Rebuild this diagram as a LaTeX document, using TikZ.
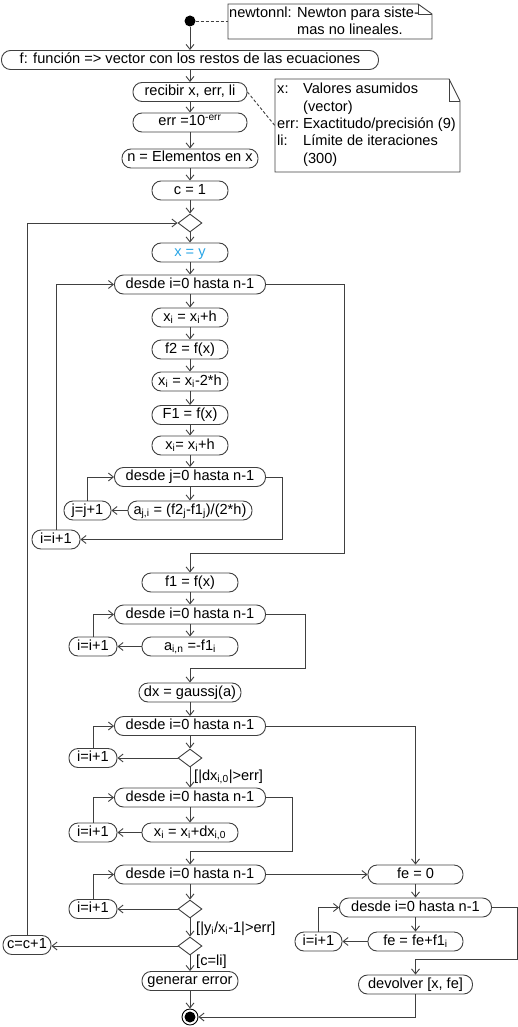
\documentclass[tikz,border=0pt]{standalone}
\usepackage{fontspec}
\setmainfont{Liberation Sans}
\usetikzlibrary{arrows.meta,shapes.geometric}
\definecolor{lc}{gray}{0.25}
\definecolor{cy}{RGB}{40,165,230}
\newcommand{\sbs}[1]{\textsubscript{#1}}
\newcommand{\sps}[1]{\textsuperscript{#1}}
\begin{document}
\begin{tikzpicture}[x=1pt,y=-1pt,
  every node/.style={font=\fontsize{14.6}{17}\selectfont, inner sep=0pt},
  act/.style={draw=lc, line width=0.9pt, rounded corners=9pt, minimum height=19pt, text height=10pt, text depth=3pt},
  dec/.style={draw=lc, line width=0.9pt, diamond, minimum width=24pt, minimum height=18pt},
  arr/.style={draw=lc, line width=0.9pt, -{Straight Barb[length=5pt,width=8pt]}},
  ln/.style={draw=lc, line width=0.9pt},
  dsh/.style={draw=lc, line width=0.9pt, dash pattern=on 3pt off 2pt},
  notetxt/.style={anchor=base west},
  guard/.style={anchor=base west}
]
\useasboundingbox (0,0) rectangle (518,1027);

% start and notes
\node[circle, fill=black, minimum size=11pt] (start) at (190,21) {};
\node[minimum width=204pt, minimum height=35pt] (note1) at (330,21.5) {};
\draw[ln] (228,4) -- (418,4) -- (432,14) -- (432,39) -- (228,39) -- cycle;
\draw[ln] (418,4) -- (418,14) -- (432,14);
\node[notetxt] (n1a) at (229,18) {newtonnl:};
\node[notetxt] (n1b) at (297,18) {Newton para siste-};
\node[notetxt] (n1c) at (297,35) {mas no lineales.};

\node[minimum width=185pt, minimum height=93pt] (note2) at (367.5,125.5) {};
\draw[ln] (275,79) -- (449,79) -- (460,101) -- (460,172) -- (275,172) -- cycle;
\draw[ln] (449,79) -- (449,101) -- (460,101);
\node[notetxt] (n2a) at (277,94) {x:};
\node[notetxt] (n2b) at (303,94) {Valores asumidos};
\node[notetxt] (n2c) at (303,111.5) {(vector)};
\node[notetxt] (n2d) at (277,129) {err:};
\node[notetxt] (n2e) at (303,129) {Exactitudo/precisión (9)};
\node[notetxt] (n2f) at (277,146) {li:};
\node[notetxt] (n2g) at (303,146) {Límite de iteraciones};
\node[notetxt] (n2h) at (303,163.5) {(300)};

% main column
\node[act, minimum width=377pt] (f) at (190,60) {f: función => vector con los restos de las ecuaciones};
\node[act, minimum width=114pt] (recv) at (190,92) {recibir x, err, li};
\node[act, minimum width=114pt] (errn) at (190,122.5) {err =10\sps{-err}};
\node[act, minimum width=136pt] (nel) at (190,158.5) {n = Elementos en x};
\node[act, minimum width=76pt] (c1) at (190,190.5) {c = 1};
\node[dec] (d0) at (190,223) {};
\node[act, minimum width=76pt, text=cy] (xy) at (190,252.5) {x = y};
\node[act, minimum width=151pt] (L1) at (190,284.5) {desde i=0 hasta n-1};
\node[act, minimum width=76pt] (xa) at (190,317.5) {x\sbs{i} = x\sbs{i}+h};
\node[act, minimum width=76pt] (f2) at (190,349.5) {f2 = f(x)};
\node[act, minimum width=76pt] (xb) at (190,381.5) {x\sbs{i} = x\sbs{i}-2*h};
\node[act, minimum width=76pt] (F1) at (190,415) {F1 = f(x)};
\node[act, minimum width=76pt] (xc) at (190,445.5) {x\sbs{i}= x\sbs{i}+h};
\node[act, minimum width=151pt] (L2) at (190,477) {desde j=0 hasta n-1};
\node[act, minimum width=124pt] (aji) at (190,510.5) {a\sbs{j,i} = (f2\sbs{j}-f1\sbs{j})/(2*h)};
\node[act, minimum width=47pt] (jj) at (87.5,510.5) {j=j+1};
\node[act, minimum width=48pt] (ii1) at (56,539.5) {i=i+1};
\node[act, minimum width=96pt] (f1) at (190,582.5) {f1 = f(x)};
\node[act, minimum width=151pt] (L3) at (190,614.5) {desde i=0 hasta n-1};
\node[act, minimum width=96pt] (ain) at (190,646.5) {a\sbs{i,n} =-f1\sbs{i}};
\node[act, minimum width=48pt] (ii2) at (93,646.5) {i=i+1};
\node[act, minimum width=102pt] (dx) at (190,692.5) {dx = gaussj(a)};
\node[act, minimum width=151pt] (L4) at (190,726) {desde i=0 hasta n-1};
\node[dec] (d1) at (190,758) {};
\node[act, minimum width=48pt] (ii3) at (93,758) {i=i+1};
\node[act, minimum width=151pt] (L5) at (190,797.5) {desde i=0 hasta n-1};
\node[act, minimum width=96pt] (xd) at (190,832.5) {x\sbs{i} = x\sbs{i}+dx\sbs{i,0}};
\node[act, minimum width=48pt] (ii4) at (93,832.5) {i=i+1};
\node[act, minimum width=151pt] (L6) at (190,874.5) {desde i=0 hasta n-1};
\node[dec] (d2) at (190,909) {};
\node[act, minimum width=48pt] (ii5) at (93,909) {i=i+1};
\node[dec] (d3) at (190,946) {};
\node[act, minimum width=48pt] (cc) at (27,945) {c=c+1};
\node[act, minimum width=96pt] (gen) at (190,981) {generar error};
\node[circle, draw=black, line width=0.9pt, minimum size=16pt] (end) at (190,1017) {};
\node[circle, fill=black, minimum size=11pt] (endin) at (190,1017) {};

% right column
\node[act, minimum width=95pt] (fe0) at (415.5,874.5) {fe = 0};
\node[act, minimum width=152pt] (R1) at (415.5,907.5) {desde i=0 hasta n-1};
\node[act, minimum width=95pt] (fef) at (415.5,941.5) {fe = fe+f1\sbs{i}};
\node[act, minimum width=47pt] (ii6) at (318.5,941.5) {i=i+1};
\node[act, minimum width=114pt] (dev) at (415.5,984.5) {devolver [x, fe]};

% guards
\node[guard] (g1) at (194,780) {[|dx\sbs{i,0}|>err]};
\node[guard] (g2) at (196,932) {[|y\sbs{i}/x\sbs{i}-1|>err]};
\node[guard] (g3) at (196,965) {[c=li]};

% bend points
\coordinate (k1) at (344,553);
\coordinate (k2) at (282,539.5);
\coordinate (k3) at (305,668);
\coordinate (k5) at (292,851);
\coordinate (kR) at (517,959);

% dashed note links
\draw[dsh] (start.east) -- (start.east -| note1.west);
\draw[dsh] (recv.east) -- (note2.west);

% connectors
\draw[arr] (start) -- (f);
\draw[arr] (f) -- (recv);
\draw[arr] (recv) -- (errn);
\draw[arr] (errn) -- (nel);
\draw[arr] (nel) -- (c1);
\draw[arr] (c1) -- (d0);
\draw[arr] (d0) -- (xy);
\draw[arr] (xy) -- (L1);
\draw[arr] (L1) -- (xa);
\draw[arr] (xa) -- (f2);
\draw[arr] (f2) -- (xb);
\draw[arr] (xb) -- (F1);
\draw[arr] (F1) -- (xc);
\draw[arr] (xc) -- (L2);
\draw[arr] (L2) -- (aji);
\draw[arr] (aji) -- (jj);
\draw[arr] (jj.north) |- (L2.west);
\draw[arr] (L2.east) -| (k2) -- (ii1.east);
\draw[arr] (ii1.north) |- (L1.west);
\draw[arr] (L1.east) -| (k1) -| (f1.north);
\draw[arr] (f1) -- (L3);
\draw[arr] (L3) -- (ain);
\draw[arr] (ain) -- (ii2);
\draw[arr] (ii2.north) |- (L3.west);
\draw[arr] (L3.east) -| (k3) -| (dx.north);
\draw[arr] (dx) -- (L4);
\draw[arr] (L4) -- (d1);
\draw[arr] (d1) -- (ii3);
\draw[arr] (ii3.north) |- (L4.west);
\draw[arr] (d1) -- (L5);
\draw[arr] (L5) -- (xd);
\draw[arr] (xd) -- (ii4);
\draw[arr] (ii4.north) |- (L5.west);
\draw[arr] (L5.east) -| (k5) -| (L6.north);
\draw[arr] (L4.east) -| (fe0.north);
\draw[arr] (L6) -- (fe0);
\draw[arr] (L6) -- (d2);
\draw[arr] (d2) -- (ii5);
\draw[arr] (ii5.north) |- (L6.west);
\draw[arr] (d2) -- (d3);
\draw[arr] (d3.west) -- (d3.west -| cc.east);
\draw[arr] (cc.north) |- (d0.west);
\draw[arr] (d3) -- (gen);
\draw[arr] (gen) -- (end);
\draw[arr] (fe0) -- (R1);
\draw[arr] (R1) -- (fef);
\draw[arr] (fef) -- (ii6);
\draw[arr] (ii6.north) |- (R1.west);
\draw[arr] (R1.east) -| (kR) -| (dev.north);
\draw[arr] (dev.south) |- (end.east);
\end{tikzpicture}
\end{document}
